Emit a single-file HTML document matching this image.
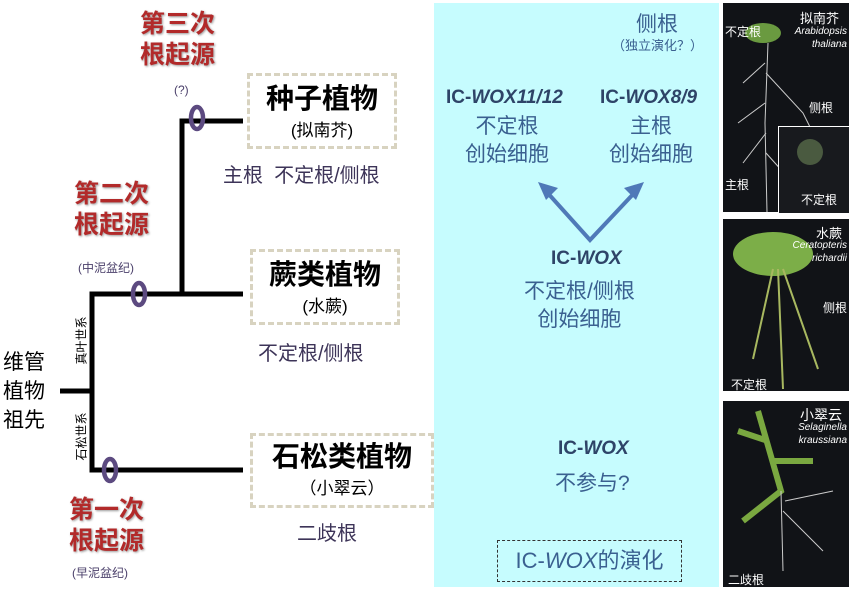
<!DOCTYPE html>
<html><head><meta charset="utf-8"><style>
body{margin:0;width:852px;height:590px;background:#fff;position:relative;overflow:hidden;font-family:"Liberation Sans","Noto Sans CJK SC",sans-serif}
.a{position:absolute;white-space:nowrap}
.red{color:#b22a2a;font-size:25px;font-weight:bold;line-height:31px;text-align:center;text-shadow:1px 1px 2px #999}
.sm{font-size:12px;color:#4a3f6a}
.box{position:absolute;border:3px dashed #d8d3c0;text-align:center;color:#000}
.pur{color:#3d3458;font-size:20px}
.blue{color:#3a6090;text-align:center}
.ph{position:absolute;background:#111317}
.w{color:#fff;font-size:12px}
.wi{color:#fff;font-size:10px;font-style:italic;text-align:right;line-height:13px}
.rot{transform:rotate(-90deg);transform-origin:center;font-size:12px;width:60px;text-align:center}
</style></head><body>
<div class="a" style="left:434px;top:3px;width:285px;height:584px;background:#c6fcfe"></div>
<svg class="a" style="left:0;top:0" width="852" height="590">
<g stroke="#000" stroke-width="5" fill="none">
<line x1="60" y1="391" x2="92" y2="391"/>
<polyline points="243,294 92,294 92,470 243,470"/>
<polyline points="243,121 182,121 182,294"/>
</g>
<g stroke="#5c4a80" stroke-width="4.5" fill="none">
<ellipse cx="197" cy="118" rx="6" ry="11"/>
<ellipse cx="139" cy="294" rx="6" ry="11"/>
<ellipse cx="110" cy="470" rx="6" ry="11"/>
</g>
<g stroke="#4f79b8" stroke-width="4" fill="none">
<polyline points="545,190 590,240 637,190"/>
</g>
<polygon points="538,182 558,188 546,200" fill="#4f79b8"/>
<polygon points="644,182 636,200 624,188" fill="#4f79b8"/>
</svg>
<div class="a red" style="left:140px;top:9px">第三次<br>根起源</div>
<div class="a sm" style="left:174px;top:83px">(?)</div>
<div class="a red" style="left:74px;top:179px">第二次<br>根起源</div>
<div class="a sm" style="left:78px;top:259px">(中泥盆纪)</div>
<div class="a red" style="left:69px;top:495px">第一次<br>根起源</div>
<div class="a sm" style="left:72px;top:564px">(早泥盆纪)</div>
<div class="a" style="left:3px;top:348px;font-size:21px;line-height:29px">维管<br>植物<br>祖先</div>
<div class="a rot" style="left:51px;top:332px">真叶世系</div>
<div class="a rot" style="left:51px;top:428px">石松世系</div>
<div class="box" style="left:247px;top:73px;width:144px;height:70px"><div style="font-size:28px;font-weight:bold;margin-top:6px;line-height:34px">种子植物</div><div style="font-size:17px">(拟南芥)</div></div>
<div class="box" style="left:250px;top:249px;width:144px;height:70px"><div style="font-size:28px;font-weight:bold;margin-top:6px;line-height:34px">蕨类植物</div><div style="font-size:17px">(水蕨)</div></div>
<div class="box" style="left:250px;top:433px;width:178px;height:69px"><div style="font-size:28px;font-weight:bold;margin-top:4px;line-height:34px">石松类植物</div><div style="font-size:17px">（小翠云）</div></div>
<div class="a pur" style="left:223px;top:159px">主根&nbsp;&nbsp;不定根/侧根</div>
<div class="a pur" style="left:258px;top:337px">不定根/侧根</div>
<div class="a pur" style="left:297px;top:517px">二歧根</div>
<div class="a blue" style="left:636px;top:8px;font-size:21px">侧根</div>
<div class="a blue" style="left:612px;top:35px;font-size:13px">（独立演化？）</div>
<div class="a blue" style="left:446px;top:84px;font-size:19px;line-height:28px;font-weight:bold;color:#2e4468">IC-<i>WOX11/12</i></div>
<div class="a blue" style="left:465px;top:113px;font-size:21px;line-height:28px">不定根<br>创始细胞</div>
<div class="a blue" style="left:600px;top:84px;font-size:19px;line-height:28px;font-weight:bold;color:#2e4468">IC-<i>WOX8/9</i></div>
<div class="a blue" style="left:609px;top:113px;font-size:21px;line-height:28px">主根<br>创始细胞</div>
<div class="a blue" style="left:551px;top:248px;font-size:19px;font-weight:bold;color:#2e4468">IC-<i>WOX</i></div>
<div class="a blue" style="left:524px;top:278px;font-size:21px;line-height:28px">不定根/侧根<br>创始细胞</div>
<div class="a blue" style="left:558px;top:438px;font-size:19px;font-weight:bold;color:#2e4468">IC-<i>WOX</i></div>
<div class="a blue" style="left:555px;top:467px;font-size:21px">不参与?</div>
<div class="a blue" style="left:497px;top:540px;width:183px;height:40px;border:1px dashed #333;font-size:22px;line-height:40px">IC-<i>WOX</i>的演化</div>
<div class="ph" style="left:723px;top:3px;width:126px;height:209px">
<svg width="126" height="209" style="position:absolute;left:0;top:0"><g stroke="#ccc" stroke-width="1" fill="none"><path d="M45 40 L42 120 L44 209 M42 60 L20 80 M43 70 L80 110 L100 150 M42 100 L15 120 M43 130 L20 160 M43 150 L70 180"/></g><ellipse cx="40" cy="30" rx="18" ry="10" fill="#6a9a40"/></svg>
<div class="a w" style="left:2px;top:20px">不定根</div><div class="a w" style="left:77px;top:5px;font-size:13px">拟南芥</div>
<div class="a wi" style="left:60px;top:22px;width:64px">Arabidopsis<br>thaliana</div>
<div class="a w" style="left:86px;top:96px">侧根</div><div class="a w" style="left:2px;top:173px">主根</div>
<div style="position:absolute;left:55px;top:123px;width:70px;height:86px;border-left:1px solid #fff;border-top:1px solid #fff;background:#181a1e"><div style="position:absolute;left:18px;top:12px;width:26px;height:26px;border-radius:50%;background:#4a5a40"></div><div class="a w" style="left:22px;top:64px">不定根</div></div>
</div>
<div class="ph" style="left:723px;top:219px;width:126px;height:172px">
<svg width="126" height="172" style="position:absolute;left:0;top:0"><ellipse cx="50" cy="35" rx="40" ry="22" fill="#7cae48"/><g stroke="#a8b860" stroke-width="2" fill="none"><path d="M50 50 L30 140 M55 50 L60 170 M60 50 L95 150"/></g></svg>
<div class="a w" style="left:93px;top:4px;font-size:13px">水蕨</div>
<div class="a wi" style="left:60px;top:20px;width:64px">Ceratopteris<br>richardii</div>
<div class="a w" style="left:100px;top:80px">侧根</div><div class="a w" style="left:8px;top:157px">不定根</div>
</div>
<div class="ph" style="left:723px;top:401px;width:126px;height:186px">
<svg width="126" height="186" style="position:absolute;left:0;top:0"><g stroke="#7aa840" stroke-width="6" fill="none"><path d="M35 10 L58 90 L20 120 M50 60 L90 60 M45 40 L15 30"/></g><g stroke="#ccc" stroke-width="1" fill="none"><path d="M58 90 L60 170 M60 110 L100 150 M62 100 L110 90"/></g></svg>
<div class="a w" style="left:77px;top:4px;font-size:14px">小翠云</div>
<div class="a wi" style="left:60px;top:20px;width:64px">Selaginella<br>kraussiana</div>
<div class="a w" style="left:5px;top:170px">二歧根</div>
</div>
</body></html>
